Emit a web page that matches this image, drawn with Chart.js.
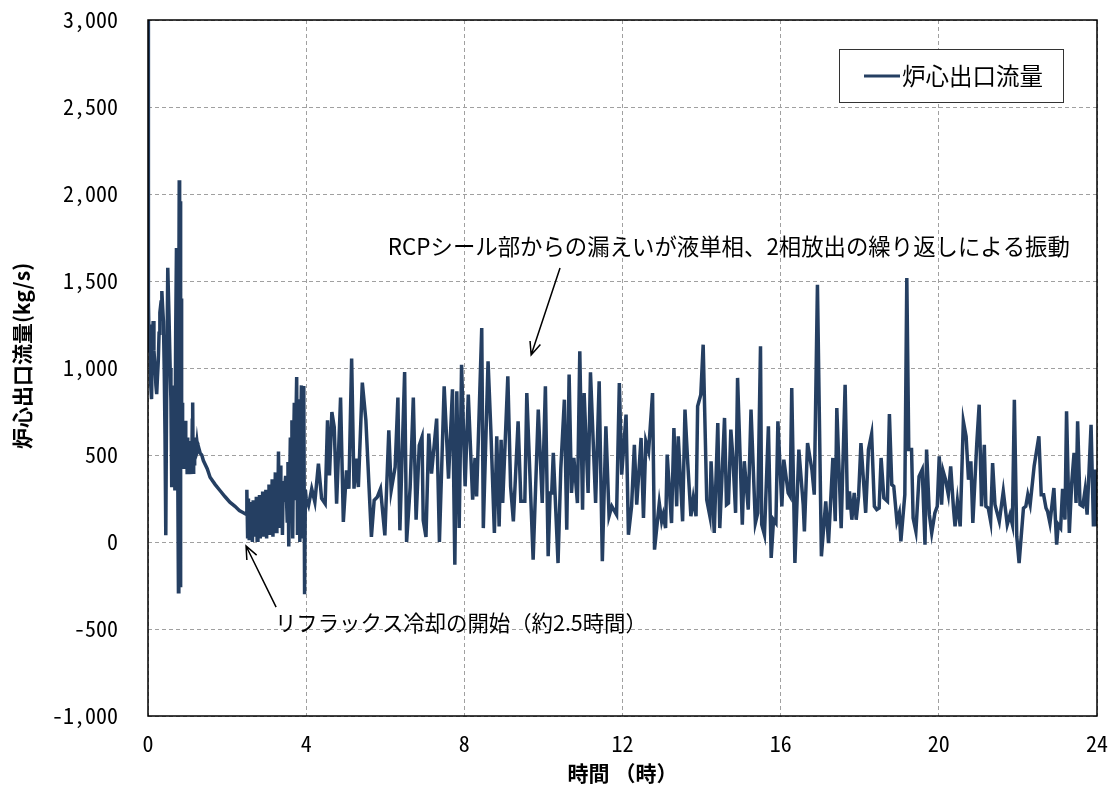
<!DOCTYPE html>
<html>
<head>
<meta charset="utf-8">
<script src="https://cdn.jsdelivr.net/npm/chart.js@4.4.0/dist/chart.umd.min.js"></script>
<style>
html, body { margin: 0; padding: 0; background: #fff; }
</style>
</head>
<body>
<canvas id="chart" width="1115" height="791"></canvas>
<script>
// 時間 (h) と炉心出口流量 (kg/s)
const hours = [
    0.00, 0.005, 0.015, 0.03, 0.05, 0.07, 0.09, 0.11, 0.13, 0.15, 0.18, 0.20, 0.22, 0.24, 0.26, 0.28, 0.30, 0.33, 0.35, 0.37,
    0.39, 0.41, 0.43, 0.45, 0.47, 0.50, 0.53, 0.56, 0.58, 0.60, 0.62, 0.64, 0.66, 0.68, 0.70, 0.72, 0.74, 0.77, 0.78, 0.79,
    0.80, 0.81, 0.82, 0.83, 0.84, 0.85, 0.86, 0.87, 0.88, 0.89, 0.90, 0.91, 0.92, 0.93, 0.94, 0.95, 0.96, 0.97, 0.98, 0.99,
    1.00, 1.01, 1.02, 1.03, 1.04, 1.05, 1.06, 1.07, 1.08, 1.09, 1.10, 1.11, 1.12, 1.13, 1.14, 1.15, 1.16, 1.17, 1.18, 1.19,
    1.20, 1.22, 1.24, 1.26, 1.28, 1.32, 1.36, 1.40, 1.50, 1.57, 1.70, 1.82, 1.95, 2.07, 2.20, 2.31, 2.40, 2.48,
    2.50, 2.52, 2.54, 2.56, 2.58, 2.60, 2.62, 2.64, 2.66, 2.68, 2.70, 2.72, 2.74, 2.76, 2.78, 2.80, 2.82, 2.84, 2.86, 2.88,
    2.90, 2.92, 2.94, 2.96, 2.98, 3.00, 3.02, 3.04, 3.06, 3.08, 3.10, 3.12, 3.14, 3.16, 3.18, 3.20, 3.22, 3.24, 3.26, 3.28,
    3.30, 3.32, 3.34, 3.36, 3.38, 3.40, 3.42, 3.44, 3.46, 3.48, 3.50, 3.52, 3.54, 3.56, 3.58, 3.60, 3.62, 3.64, 3.66, 3.68,
    3.70, 3.72, 3.74, 3.76, 3.78, 3.80, 3.82, 3.84, 3.86, 3.88, 3.90, 3.92, 3.94, 3.96, 3.98, 4.00,
    4.06, 4.14, 4.22, 4.31, 4.39, 4.48, 4.54, 4.59, 4.65, 4.71, 4.77, 4.87, 4.94, 5.02, 5.08, 5.15, 5.21, 5.26, 5.32, 5.42,
    5.51, 5.65, 5.72, 5.80, 5.88, 5.99, 6.09, 6.15, 6.25, 6.32, 6.37, 6.49, 6.54, 6.63, 6.71, 6.78, 6.86, 6.93, 6.96, 7.03,
    7.10, 7.17, 7.30, 7.37, 7.49, 7.60, 7.70, 7.76, 7.81, 7.87, 7.93,
    8.02, 8.10, 8.21, 8.27, 8.31, 8.44, 8.48, 8.60, 8.67, 8.76, 8.82, 8.88, 8.93, 8.97, 9.10, 9.17, 9.24, 9.36, 9.43, 9.53,
    9.58, 9.74, 9.87, 9.97, 10.05, 10.12, 10.17, 10.21, 10.25, 10.37, 10.44, 10.53, 10.59, 10.65, 10.71, 10.77, 10.86, 10.92, 10.99, 11.03,
    11.13, 11.19, 11.32, 11.41, 11.49, 11.58, 11.66, 11.73, 11.85, 11.92,
    11.98, 12.09, 12.15, 12.23, 12.30, 12.36, 12.47, 12.53, 12.59, 12.66, 12.76, 12.81, 12.93, 12.99, 13.03, 13.09, 13.13, 13.24, 13.30, 13.37,
    13.41, 13.52, 13.58, 13.65, 13.73, 13.79, 13.86, 13.90, 13.98, 14.04, 14.13, 14.21, 14.24, 14.32, 14.41, 14.46, 14.58, 14.63, 14.68, 14.74,
    14.79, 14.86, 14.91, 15.03, 15.08, 15.18, 15.25, 15.36, 15.42, 15.49, 15.52, 15.59, 15.69, 15.76, 15.82, 15.88, 15.93,
    16.03, 16.08, 16.19, 16.24, 16.28, 16.36, 16.46, 16.57, 16.60, 16.68, 16.79, 16.85, 16.93, 17.03, 17.14, 17.21, 17.32, 17.38, 17.42, 17.53,
    17.63, 17.69, 17.74, 17.80, 17.86, 17.91, 17.97, 18.03, 18.15, 18.22, 18.30, 18.37, 18.43, 18.49, 18.54, 18.61, 18.70, 18.75, 18.81, 18.86,
    18.94, 19.00, 19.04, 19.14, 19.19, 19.24, 19.31, 19.35, 19.42, 19.50, 19.58, 19.65, 19.69, 19.76, 19.82, 19.90, 19.96, 20.01,
    20.07, 20.11, 20.17, 20.24, 20.30, 20.37, 20.41, 20.47, 20.54, 20.62, 20.69, 20.75, 20.81, 20.86, 20.96, 21.02, 21.08, 21.15, 21.19, 21.25,
    21.31, 21.36, 21.42, 21.53, 21.63, 21.73, 21.80, 21.86, 21.91, 21.97, 22.03, 22.14, 22.20, 22.25, 22.31, 22.41, 22.47, 22.53, 22.59, 22.65,
    22.71, 22.75, 22.81, 22.91, 22.98, 23.02, 23.08, 23.13, 23.19, 23.23, 23.30, 23.36, 23.42, 23.47, 23.51, 23.57, 23.64, 23.70, 23.75, 23.85,
    23.91, 23.95, 24.00
];
const flow = [
    1300, 3000, 1385, 1100, 1250, 900, 821, 1150, 1270, 1100, 1003, 900, 850, 950, 1041, 1200, 1318, 1380, 1442, 1350,
    1270, 1000, 620, 39, 800, 1576, 1308, 1000, 812, 315, 700, 583, 900, 296, 1200, 1690, 900, -286, 1400, 2079,
    1200, -250, 1958, 700, 1400, 500, 800, 420, 700, 450, 697, 430, 650, 450, 697, 420, 600, 430, 560, 400,
    600, 410, 560, 420, 580, 430, 544, 400, 560, 420, 520, 391, 700, 802, 480, 391, 600, 450, 601, 500,
    580, 520, 570, 530, 544, 510, 500, 468, 420, 372, 330, 296, 260, 229, 205, 181, 170, 160,
    300, 20, 250, 10, 230, 40, 200, 0, 240, 30, 210, 60, 260, 10, 220, 50, 270, 20, 240, 70,
    290, 30, 250, 80, 300, 20, 280, 90, 330, 40, 300, 110, 360, 30, 340, 120, 400, 60, 380, 150,
    520, 80, 440, 200, 330, 40, 350, 240, 310, 380, 270, 120, 460, -26, 300, 600, 150, 700, 20, 520,
    800, 250, 680, 948, 40, 500, 820, 0, 650, 900, 20, 380, 897, -300, 300, 250,
    210, 306, 230, 450, 250, 220, 700, 383, 747, 660, 220, 830, 115, 412, 306, 1054, 306, 479, 316, 916,
    700, 29, 240, 259, 306, 38, 642, 297, 431, 830, 67, 977, 0, 316, 830, 128, 556, 604, 125, 29,
    623, 393, 709, 0, 895, 364, 878, -130, 866, 80, 1019,
    320, 847, 243, 483, 262, 1230, 80, 1038, 646, 52, 607, 90, 588, 224, 952, 320, 119, 694, 234, 234,
    856, -102, 761, 224, 895, -82, 282, 282, 512, -121, 425, 818, 71, 962, 282, 483, 224, 1096, 186, 856,
    282, 975, 224, 923, -111, 665, 148, 205, 157, 914,
    387, 732, 42, 205, 559, 215, 598, 138, 579, 521, 856, -44, 224, 119, 157, 80, 502, 109, 655, 205,
    607, 119, 761, 454, 148, 253, 148, 780, 847, 1134, 243, 148, 464, 52, 684, 80, 713, 215, 224, 646,
    492, 167, 943, 100, 464, 186, 761, 109, 167, 1125, 100, 42, 665, -92, 128, 109, 694,
    205, 473, 282, 262, 885, -121, 531, 215, 61, 569, 416, 272, 1479, -82, 234, -6, 483, 119, 770, 80,
    904, 186, 291, 128, 282, 128, 262, 569, 167, 531, 621, 205, 186, 195, 483, 253, 234, 736, 330, 320,
    119, 167, 4, 272, 1517, 531, 531, 138, 61, 377, 416, -15, 531, 157, 52, 167, 205, 492,
    215, 406, 358, 272, 435, 195, 90, 234, 90, 694, 607, 358, 464, 109, 569, 789, 205, 559, 205, 195,
    119, 454, 215, 119, 291, 100, 157, 100, 818, 33, -121, 195, 205, 272, 215, 435, 521, 607, 272, 272,
    195, 176, 109, 310, -15, 100, 80, 305, 128, 751, 52, 339, 512, 224, 694, 215, 205, 301, 157, 674,
    90, 416, 90
];
const xTicks = [0, 4, 8, 12, 16, 20, 24];
const seriesName = '炉心出口流量';
const yTitle = '炉心出口流量(kg/s)';
const xTitle = '時間 （時）';
const noteRcp = 'RCPシール部からの漏えいが液単相、2相放出の繰り返しによる振動';
const noteReflux = 'リフラックス冷却の開始（約2.5時間）';

const lineColor = '#253f62';
const jpFont = '"Noto Sans CJK JP", "Noto Sans", sans-serif';
const numFont = '"Noto Sans Mono CJK JP", "Noto Sans CJK JP", sans-serif';

// 枠線
var framePlugin = {
    id: 'frame',
    afterDatasetsDraw: function (chart) {
        const a = chart.chartArea;
        const ctx = chart.ctx;
        ctx.save();
        ctx.strokeStyle = '#000';
        ctx.lineWidth = 1.5;
        ctx.strokeRect(a.left, a.top, a.right - a.left, a.bottom - a.top);
        ctx.restore();
    }
};

// 縦軸タイトル
var yTitlePlugin = {
    id: 'yTitle',
    afterDraw: function (chart) {
        const ctx = chart.ctx;
        ctx.save();
        ctx.translate(22, chart.chartArea.top + 336);
        ctx.rotate(-Math.PI / 2);
        ctx.fillStyle = '#000';
        ctx.font = 'bold 21px ' + jpFont;
        ctx.textAlign = 'center';
        ctx.textBaseline = 'middle';
        ctx.fillText(yTitle, 0, 0);
        ctx.restore();
    }
};

// 凡例 (枠付き)
var legendBox = {
    id: 'legendBox',
    afterDraw: function (chart) {
        const a = chart.chartArea;
        const ctx = chart.ctx;
        const x = a.right - 258, y = a.top + 29;
        ctx.save();
        ctx.fillStyle = '#fff';
        ctx.fillRect(x, y, 224, 53);
        ctx.strokeStyle = '#333';
        ctx.lineWidth = 1;
        ctx.strokeRect(x + 0.5, y + 0.5, 224, 53);
        ctx.strokeStyle = lineColor;
        ctx.lineWidth = 3;
        ctx.beginPath();
        ctx.moveTo(x + 25, y + 27);
        ctx.lineTo(x + 61, y + 27);
        ctx.stroke();
        ctx.fillStyle = '#000';
        ctx.font = '23.5px ' + jpFont;
        ctx.textBaseline = 'middle';
        ctx.fillText(seriesName, x + 63, y + 27);
        ctx.restore();
    }
};

// 注記と矢印
var arrow = function (ctx, x1, y1, x2, y2) {
    const ang = Math.atan2(y2 - y1, x2 - x1);
    const h = 14;
    ctx.beginPath();
    ctx.moveTo(x1, y1);
    ctx.lineTo(x2, y2);
    ctx.moveTo(x2 - h * Math.cos(ang - 0.4), y2 - h * Math.sin(ang - 0.4));
    ctx.lineTo(x2, y2);
    ctx.lineTo(x2 - h * Math.cos(ang + 0.4), y2 - h * Math.sin(ang + 0.4));
    ctx.stroke();
};

var notes = {
    id: 'notes',
    afterDraw: function (chart) {
        const xs = chart.scales.x, ys = chart.scales.y;
        const ctx = chart.ctx;
        ctx.save();
        ctx.fillStyle = '#000';
        ctx.strokeStyle = '#000';
        ctx.lineWidth = 1.5;
        ctx.textBaseline = 'middle';
        ctx.font = '22.4px ' + jpFont;
        ctx.textAlign = 'center';
        ctx.fillText(noteRcp, xs.getPixelForValue(14.69), ys.getPixelForValue(1701));
        arrow(ctx, xs.getPixelForValue(10.42), ys.getPixelForValue(1575), xs.getPixelForValue(9.69), ys.getPixelForValue(1075));
        ctx.font = '21.4px ' + jpFont;
        ctx.textAlign = 'left';
        ctx.fillText(noteReflux, xs.getPixelForValue(3.21), ys.getPixelForValue(-466));
        arrow(ctx, xs.getPixelForValue(3.24), ys.getPixelForValue(-374), xs.getPixelForValue(2.48), ys.getPixelForValue(-23));
        ctx.restore();
    }
};

var noPad = function (s) {
    s.paddingTop = 0;
    s.paddingBottom = 0;
    s.paddingLeft = 0;
    s.paddingRight = 0;
};

var drawChart = function (id) {
    const ctx = document.getElementById(id);
    var myChart = new Chart(ctx, {
        type: 'line',
        data: {
            datasets: [
                {
                    label: seriesName,
                    data: hours.map(function (h, i) { return { x: h, y: flow[i] }; }),
                    borderColor: lineColor,
                    borderWidth: 3.5,
                    pointRadius: 0,
                    tension: 0,
                },
            ],
        },
        options: {
            responsive: false,
            animation: false,
            layout: { padding: { top: 20, right: 18, left: 0, bottom: 0 } },
            plugins: {
                legend: { display: false },
                tooltip: { enabled: false },
            },
            scales: {
                x: {
                    type: 'linear',
                    min: 0,
                    max: 24,
                    afterBuildTicks: function (s) { s.ticks = xTicks.map(function (v) { return { value: v }; }); },
                    afterFit: function (s) { s.height = 75; noPad(s); },
                    ticks: { color: '#000', padding: 14, font: { size: 22, family: numFont } },
                    grid: { color: '#a0a0a0', lineWidth: 1, drawTicks: false },
                    border: { display: false, dash: [4, 3] },
                    title: {
                        display: true, text: xTitle, color: '#000',
                        font: { size: 21, weight: 'bold', family: jpFont },
                        padding: { top: 0, bottom: 5 },
                    },
                },
                y: {
                    min: -1000,
                    max: 3000,
                    afterFit: function (s) { s.width = 148; noPad(s); },
                    ticks: {
                        stepSize: 500, color: '#000', padding: 30,
                        font: { size: 22, family: numFont },
                        callback: function (v) { return v.toLocaleString('en-US'); },
                    },
                    grid: { color: '#a0a0a0', lineWidth: 1, drawTicks: false },
                    border: { display: false, dash: [4, 3] },
                },
            },
        },
        plugins: [framePlugin, yTitlePlugin, legendBox, notes],
    });
};

drawChart('chart');
</script>
</body>
</html>
